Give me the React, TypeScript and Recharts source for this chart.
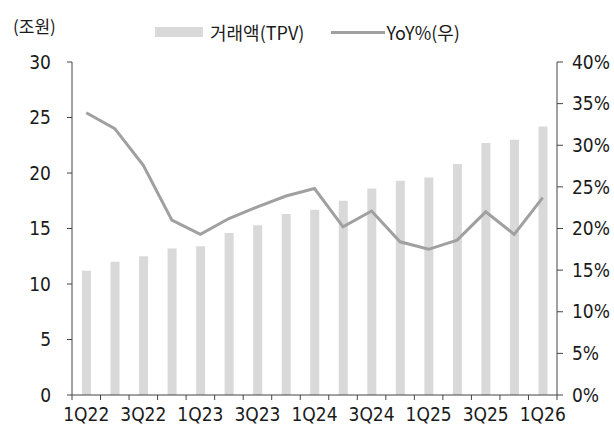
import { ComposedChart, Bar, Line, XAxis, YAxis, Legend } from 'recharts'

const quarters = [
  '1Q22', '2Q22', '3Q22', '4Q22',
  '1Q23', '2Q23', '3Q23', '4Q23',
  '1Q24', '2Q24', '3Q24', '4Q24',
  '1Q25', '2Q25', '3Q25', '4Q25',
  '1Q26',
]
// 거래액(TPV), 조원
const tpv = [11.2, 12.0, 12.5, 13.2, 13.4, 14.6, 15.3, 16.3, 16.7, 17.5, 18.6, 19.3, 19.6, 20.8, 22.7, 23.0, 24.2]
// YoY %, right axis
const yoy = [33.9, 32.0, 27.6, 21.0, 19.3, 21.2, 22.6, 23.9, 24.8, 20.2, 22.1, 18.4, 17.5, 18.6, 22.0, 19.3, 23.7]
const leftTicks = [0, 5, 10, 15, 20, 25, 30]
const rightTicks = [0, 5, 10, 15, 20, 25, 30, 35, 40]

const data = quarters.map((q, i) => ({ q, tpv: tpv[i], yoy: yoy[i] }))

const W = 614
const H = 427
const AXIS = '#444'
const TEXT = '#1a1a1a'
const BAR = '#d9d9d9'
const LINE = '#a0a0a0'
const NUM_FONT = "'Liberation Sans Narrow', 'Arial Narrow', 'DejaVu Sans Condensed', sans-serif"
const KR_FONT = "'Noto Sans CJK KR', 'Noto Sans', sans-serif"
const TICK_LEN = 5
const TICK_GAP = 8
const PLOT_W = 557 - 72

function QuarterTick(props: any) {
  const { x, y, payload, index } = props
  const half = payload.offset ?? PLOT_W / quarters.length / 2
  const top = y - TICK_LEN - TICK_GAP
  return (
    <g>
      <line x1={x - half} x2={x - half} y1={top} y2={top + TICK_LEN} stroke={AXIS} />
      {index === quarters.length - 1 && (
        <line x1={x + half} x2={x + half} y1={top} y2={top + TICK_LEN} stroke={AXIS} />
      )}
      {index % 2 === 0 && (
        <text x={x} y={y} dy="0.71em" textAnchor="middle" fill={TEXT} fontSize={19} fontFamily={NUM_FONT}>
          {payload.value}
        </text>
      )}
    </g>
  )
}

function LegendBox() {
  return (
    <div style={{ display: 'flex', alignItems: 'center', height: 20, fontFamily: KR_FONT, fontSize: 18, color: TEXT }}>
      <span style={{ width: 48, height: 10, background: BAR, display: 'inline-block', marginRight: 7 }} />
      <span style={{ marginRight: 27 }}>거래액(TPV)</span>
      <span style={{ width: 54, height: 3, background: LINE, display: 'inline-block', marginRight: 1 }} />
      <span>YoY%(우)</span>
    </div>
  )
}

export default function App() {
  return (
    <div style={{ position: 'absolute', left: 0, top: 0, width: W, height: H, background: '#fff' }}>
      <div
        style={{
          position: 'absolute', left: 13, top: 15, fontFamily: KR_FONT, fontSize: 17,
          lineHeight: '22px', color: TEXT,
        }}
      >
        (조원)
      </div>
      <ComposedChart width={W} height={H} data={data} margin={{ top: 42, right: 0, bottom: 0, left: 0 }}>
        <Legend
          verticalAlign="top"
          content={() => <LegendBox />}
          wrapperStyle={{ top: 22, left: 155, width: 'auto' }}
        />
        <XAxis
          dataKey="q"
          interval={0}
          height={32}
          stroke={AXIS}
          tickLine={false}
          tickSize={TICK_LEN}
          tickMargin={TICK_GAP}
          tick={<QuarterTick />}
        />
        <YAxis
          yAxisId="left"
          domain={[0, 30]}
          ticks={leftTicks}
          width={72}
          stroke={AXIS}
          tickSize={5}
          tickMargin={16}
          tick={{ fill: TEXT, fontSize: 19, fontFamily: NUM_FONT }}
        />
        <YAxis
          yAxisId="right"
          orientation="right"
          domain={[0, 40]}
          ticks={rightTicks}
          width={57}
          stroke={AXIS}
          tickSize={6}
          tickMargin={9}
          tickFormatter={(v: number) => `${v}%`}
          tick={{ fill: TEXT, fontSize: 19, fontFamily: NUM_FONT }}
        />
        <Bar yAxisId="left" dataKey="tpv" name="거래액(TPV)" fill={BAR} barSize={9} isAnimationActive={false} />
        <Line
          yAxisId="right"
          dataKey="yoy"
          name="YoY%(우)"
          type="linear"
          stroke={LINE}
          strokeWidth={3}
          dot={false}
          isAnimationActive={false}
        />
      </ComposedChart>
    </div>
  )
}
